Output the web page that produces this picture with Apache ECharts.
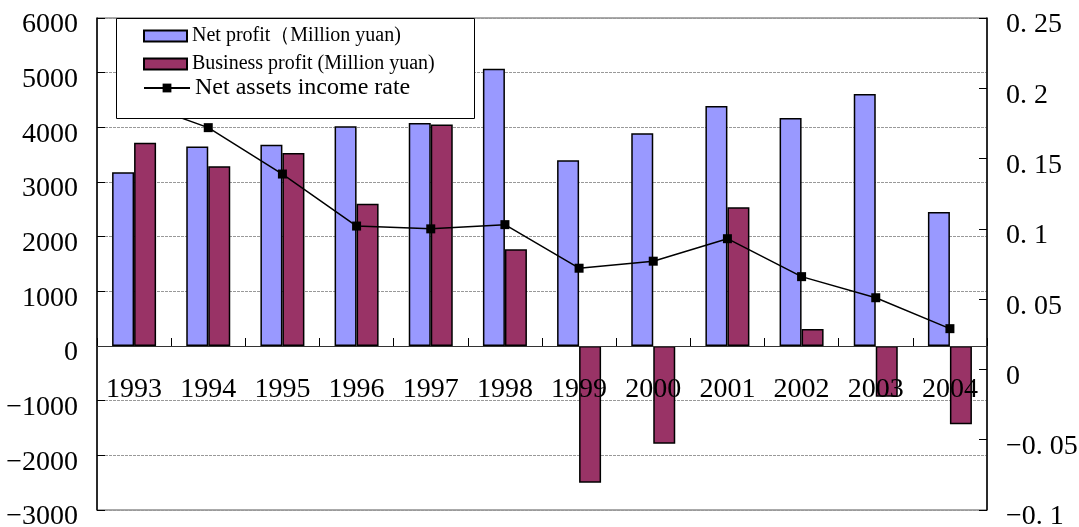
<!DOCTYPE html>
<html>
<head>
<meta charset="utf-8">
<script src="https://cdn.jsdelivr.net/npm/echarts@6/dist/echarts.min.js"></script>
<style>
  html, body { margin: 0; padding: 0; background: #fff; }
  #chart { width: 1079px; height: 527px; }
</style>
</head>
<body>
<div id="chart"></div>
<script>
// Annual figures, 1993–2004
const years = ['1993', '1994', '1995', '1996', '1997', '1998', '1999', '2000', '2001', '2002', '2003', '2004'];
const netProfit = [3180, 3650, 3680, 4020, 4080, 5070, 3400, 3890, 4390, 4170, 4610, 2450];
const businessProfit = [3720, 3290, 3530, 2600, 4050, 1770, -2500, -1790, 2540, 310, -930, -1430];
const netAssetsIncomeRate = [0.191, 0.172, 0.139, 0.102, 0.100, 0.103, 0.072, 0.077, 0.093, 0.066, 0.051, 0.029];

const seriesNames = ['Net profit\uFF08Million yuan)', 'Business profit (Million yuan)', 'Net assets income rate'];

const FONT = '"Liberation Serif", "DejaVu Serif", serif';
const BLUE = '#9999FF';
const PLUM = '#993366';
const TICK_FONT = 28;

const chart = echarts.init(document.getElementById('chart'), null, { renderer: 'canvas' });

function leftLabel(v) {
  return v < 0 ? '\u2212' + Math.abs(v) : String(v);
}
function rightLabel(v) {
  const a = Math.round(Math.abs(v) * 100) / 100;
  if (a === 0) return '0';
  return (v < 0 ? '\u2212' : '') + String(a).replace('0.', '0. ');
}

function legendBlock(name, top, fontSize, extra) {
  return Object.assign({
    show: true,
    left: 143,
    top: top,
    orient: 'vertical',
    padding: 0,
    data: [{ name: name, icon: 'rect' }],
    itemWidth: 43,
    itemHeight: 11,
    itemGap: 0,
    z: 11,
    selectedMode: false,
    textStyle: { fontFamily: FONT, fontSize: fontSize, color: '#000' }
  }, extra || {});
}

// value-axis labels hang slightly below their tick
const valueLabelStyle = {
  margin: 19,
  verticalAlign: 'top',
  lineHeight: 14,
  fontFamily: FONT,
  fontSize: TICK_FONT,
  color: '#000'
};

const option = {
  backgroundColor: '#fff',
  animation: false,
  textStyle: { fontFamily: FONT },
  grid: {
    left: 97, right: 92, top: 18, bottom: 17,
    containLabel: false,
    outerBoundsMode: 'none',
    show: true,
    borderColor: '#555',
    borderWidth: 1,
    backgroundColor: 'transparent'
  },
  graphic: [{
    type: 'rect',
    z: 10,
    shape: { x: 116.5, y: 18.5, width: 358, height: 100 },
    style: { fill: '#fff', stroke: '#000', lineWidth: 1 }
  }],
  legend: [
    legendBlock(seriesNames[0], 26, 20),
    legendBlock(seriesNames[1], 54, 20),
    Object.assign(legendBlock(seriesNames[2], 76, 24, { itemWidth: 46, itemHeight: 11 }), {
      data: [{ name: seriesNames[2] }]
    })
  ],
  xAxis: {
    type: 'category',
    data: years,
    z: 4,
    axisLine: { onZero: true, lineStyle: { color: '#333', width: 1 } },
    axisTick: { show: true, inside: true, length: 8, interval: 0, alignWithLabel: false, lineStyle: { color: '#000' } },
    // labels sit just under the zero line, inside the plot
    axisLabel: { margin: -134, fontFamily: FONT, fontSize: TICK_FONT, color: '#000', interval: 0 },
    splitLine: { show: false }
  },
  yAxis: [
    {
      type: 'value',
      min: -3000, max: 6000, interval: 1000,
      axisLine: { show: true, onZero: false, lineStyle: { color: '#000', width: 1.5 } },
      axisTick: { show: true, inside: true, length: 8, lineStyle: { color: '#000' } },
      axisLabel: Object.assign({ formatter: leftLabel }, valueLabelStyle),
      splitLine: { show: true, lineStyle: { color: '#999', type: [3, 1], width: 1 } }
    },
    {
      type: 'value',
      min: -0.1, max: 0.25, interval: 0.05,
      position: 'right',
      axisLine: { show: true, onZero: false, lineStyle: { color: '#000', width: 1.5 } },
      axisTick: { show: true, inside: true, length: 8, lineStyle: { color: '#000' } },
      axisLabel: Object.assign({ formatter: rightLabel }, valueLabelStyle),
      splitLine: { show: false }
    }
  ],
  series: [
    {
      name: seriesNames[0],
      type: 'bar',
      yAxisIndex: 0,
      data: netProfit,
      barWidth: 22,
      barGap: '0%',
      itemStyle: { color: BLUE, borderColor: '#000', borderWidth: 1.5 }
    },
    {
      name: seriesNames[1],
      type: 'bar',
      yAxisIndex: 0,
      data: businessProfit,
      barWidth: 22,
      barGap: '0%',
      itemStyle: { color: PLUM, borderColor: '#000', borderWidth: 1.5 }
    },
    {
      name: seriesNames[2],
      type: 'line',
      yAxisIndex: 1,
      data: netAssetsIncomeRate,
      symbol: 'rect',
      symbolSize: 9,
      z: 5,
      lineStyle: { color: '#000', width: 1.5 },
      itemStyle: { color: '#000' }
    }
  ]
};

chart.setOption(option);
</script>
</body>
</html>
